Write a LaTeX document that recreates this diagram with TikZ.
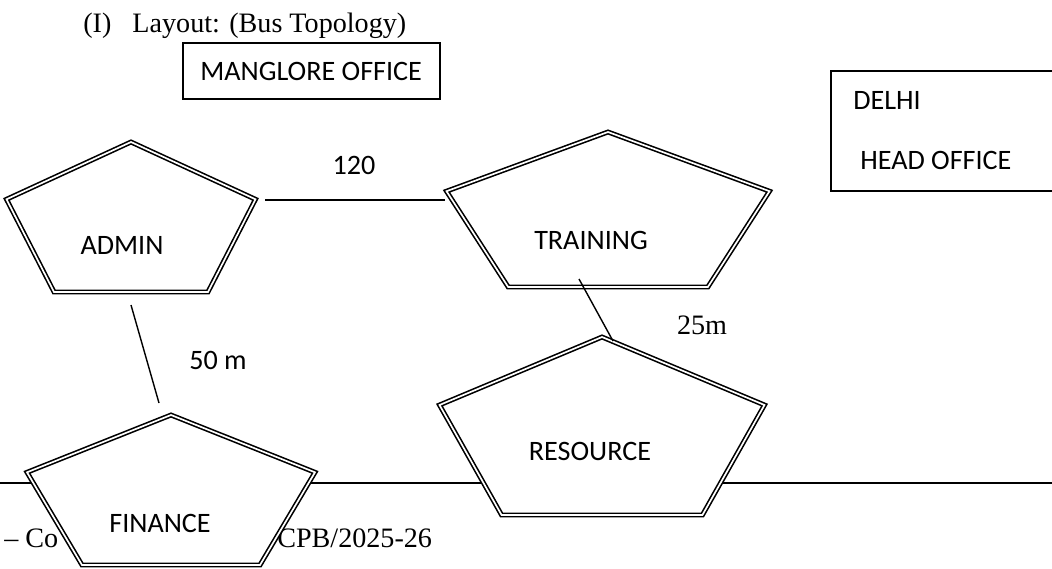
\documentclass[tikz,border=0pt]{standalone}
\usepackage{fontspec}
\setmainfont{Liberation Serif}
\newfontfamily\calibri{Carlito}
\usepackage{tikz}

\tikzset{
  bldg/.style={draw, fill=white, double, line width=1.15pt, double distance=1.2pt, line join=miter},
  lbl/.style={font=\calibri\fontsize{20}{24}\selectfont, inner sep=0pt},
  serif/.style={font=\fontsize{20}{24}\selectfont, inner sep=0pt},
  box/.style={line width=1.3pt},
  link/.style={line width=1pt},
}

% pentagon: centre x, top y, width, height
\newcommand{\pentabldg}[4]{%
  \filldraw[bldg] (#1,#2) -- (#1+#3/2,#2+0.382*#4) -- (#1+0.309*#3,#2+#4)
    -- (#1-0.309*#3,#2+#4) -- (#1-#3/2,#2+0.382*#4) -- cycle;}

\begin{document}
\begin{tikzpicture}[x=0.025cm, y=-0.025cm]

        \useasboundingbox (0,0) rectangle (1052,568);

        \node[serif, anchor=base west] (title) at (83,32) {(I)\hspace{15pt}Layout: (Bus Topology)};

        \draw[box] (183,43) rectangle (440,99);
        \node[lbl, anchor=base west] (mang) at (200,80) {MANGLORE OFFICE};

        \draw[box] (831,71) rectangle (1060,191);
        \node[lbl, anchor=base west] (delhi) at (853,109) {DELHI};
        \node[lbl, anchor=base west] (head) at (860,169) {HEAD OFFICE};

        % page rule and footer
        \draw[line width=1.3pt] (0,483) -- (1052,483);
        \node[serif, anchor=base west] (foot1) at (4,547) {-- Co};
        \node[serif, anchor=base west] (foot2) at (277,547) {CPB/2025-26};

        \pentabldg{131}{142}{249}{150}
        \pentabldg{608}{132}{323}{155}
        \pentabldg{602}{337}{325}{178}
        \pentabldg{171}{415}{288}{150}

        \node[lbl] (admin) at (122,245) {ADMIN};
        \node[lbl] (training) at (591,240) {TRAINING};
        \node[lbl] (resource) at (590,451) {RESOURCE};
        \node[lbl] (finance) at (160,523) {FINANCE};

        \coordinate (a-e) at (265,200);
        \coordinate (t-w) at (445,200);
        \coordinate (a-s) at (131,305);
        \coordinate (f-n) at (159,403);
        \coordinate (t-s) at (579,279);
        \coordinate (r-n) at (613,341);

        \draw[link] (a-e) -- (t-w);
        \draw[link] (a-s) -- (f-n);
        \draw[link] (t-s) -- (r-n);

        \node[lbl] (d120) at (354,165) {120};
        \node[lbl] (d50) at (218,360) {50 m};
        \node[serif] (d25) at (702,325) {25m};

      \end{tikzpicture}
\end{document}
